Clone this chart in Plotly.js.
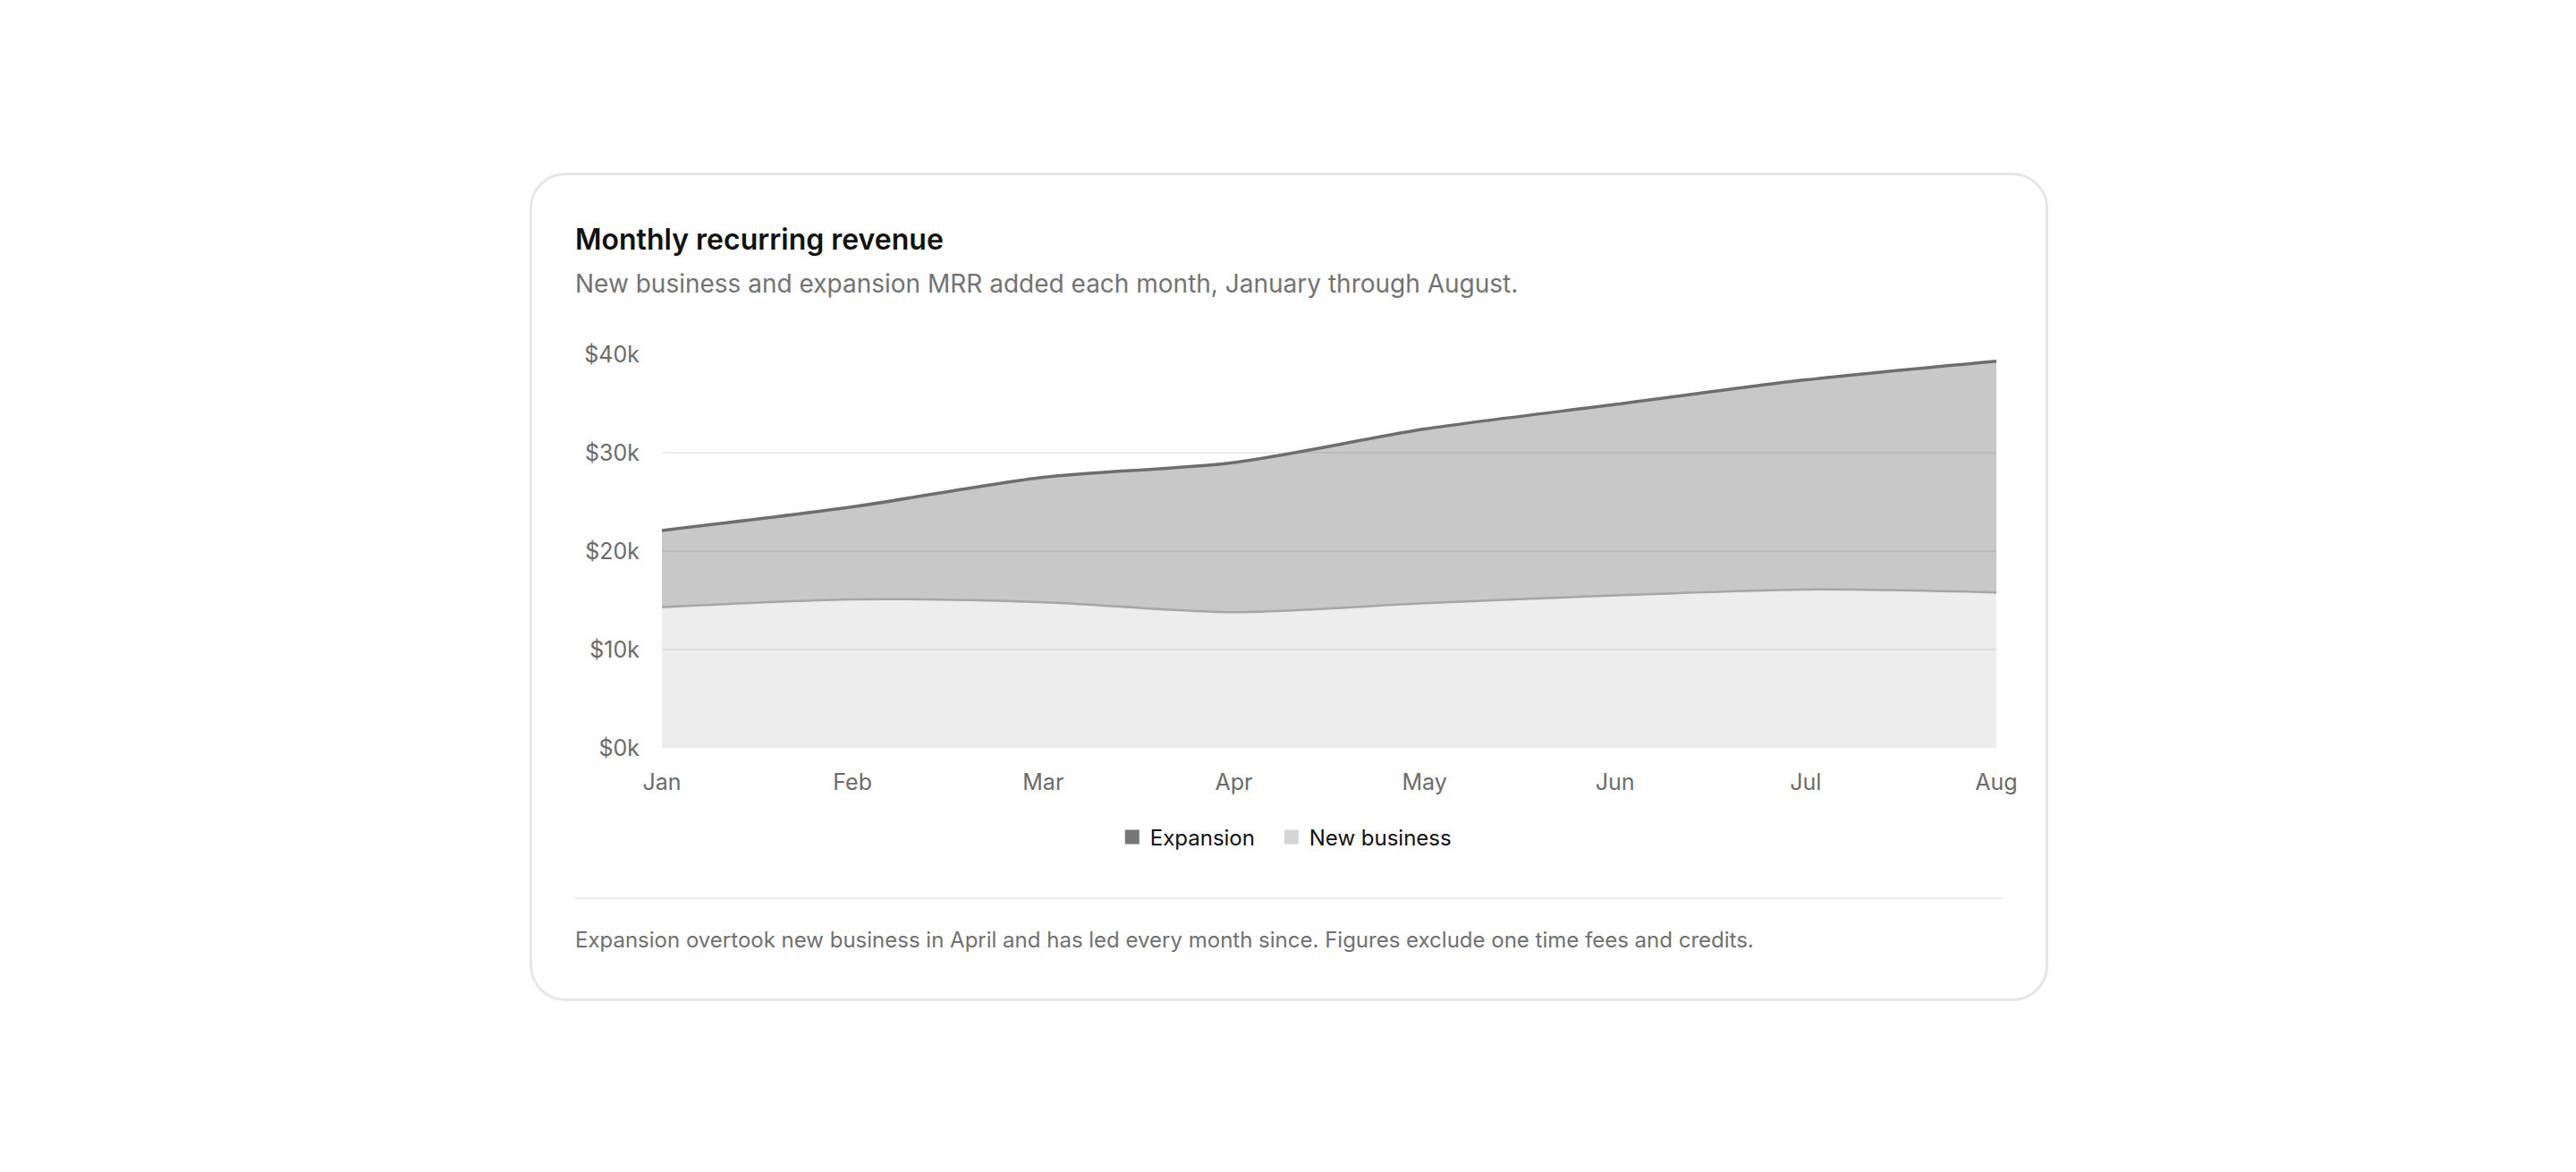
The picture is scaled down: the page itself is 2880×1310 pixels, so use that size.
<!DOCTYPE html>
<html>
<head>
<meta charset="utf-8">
<script src="https://cdn.plot.ly/plotly-3.0.1.min.js"></script>
<style>
  html, body { margin: 0; padding: 0; background: #fff; }
  body { width: 2880px; height: 1310px; position: relative; font-family: Inter, "Noto Sans", sans-serif; }
  .card {
    position: absolute; left: 592px; top: 193px;
    width: 1698px; height: 926px; box-sizing: border-box;
    border: 3px solid #e6e6e6; border-radius: 40px; background: #fff;
  }
  .title { position: absolute; left: 48px; top: 52px; font-size: 32px; line-height: 39px; font-weight: 600; color: #111; white-space: nowrap; }
  .sub { position: absolute; left: 48px; top: 104px; font-size: 28px; line-height: 34px; color: #737373; white-space: nowrap; }
  #mrr-chart { position: absolute; left: 48px; top: 154px; width: 1620px; height: 640px; }
  .rule { position: absolute; left: 48px; top: 807px; width: 1595px; height: 2px; background: #ececec; }
  .note { position: absolute; left: 48px; top: 840px; font-size: 24px; line-height: 29px; color: #707070; white-space: nowrap; }
</style>
</head>
<body>
<div class="card">
  <div class="title">Monthly recurring revenue</div>
  <div class="sub">New business and expansion MRR added each month, January through August.</div>
  <div id="mrr-chart"></div>
  <div class="rule"></div>
  <div class="note">Expansion overtook new business in April and has led every month since. Figures exclude one time fees and credits.</div>
</div>
<script>
// chart data
const months = ['Jan', 'Feb', 'Mar', 'Apr', 'May', 'Jun', 'Jul', 'Aug'];
const newBusiness = [14300, 15100, 14800, 13800, 14700, 15500, 16100, 15800];
const expansion = [7800, 9400, 12700, 15200, 17700, 19400, 21300, 23500];
const yTicks = [0, 10000, 20000, 30000, 40000];
const yTickText = ['$0k', '$10k', '$20k', '$30k', '$40k'];

const tickFont = {family: 'Inter, sans-serif', size: 25, color: '#6b6b6b'};

// stacked areas, new business at the bottom
let newTrace = {
  x: months,
  y: newBusiness,
  name: 'New business',
  stackgroup: 'mrr',
  mode: 'lines',
  line: {color: '#a6a6a6', width: 2.5, shape: 'spline', smoothing: 0.8},
  fillcolor: 'rgba(170,170,170,0.21)',
  showlegend: false
}

let expTrace = {
  x: months,
  y: expansion,
  name: 'Expansion',
  stackgroup: 'mrr',
  mode: 'lines',
  line: {color: '#6e6e6e', width: 3.5, shape: 'spline', smoothing: 0.8},
  fillcolor: 'rgba(110,110,110,0.38)',
  showlegend: false
}

// legend swatches only
let expKey = {x: [null], y: [null], name: 'Expansion', mode: 'markers', legendwidth: 133, marker: {symbol: 'square', size: 16, color: '#777777'}}
let newKey = {x: [null], y: [null], name: 'New business', mode: 'markers', marker: {symbol: 'square', size: 16, color: '#d4d4d4'}}

let layout = {
  width: 1620,
  height: 640,
  margin: {l: 97, r: 31, t: 46, b: 154},
  paper_bgcolor: 'rgba(0,0,0,0)',
  plot_bgcolor: 'rgba(0,0,0,0)',
  font: {family: 'Inter, sans-serif', color: '#111'},
  xaxis: {
    type: 'category',
    range: [0, 7],
    showgrid: false,
    zeroline: false,
    showline: false,
    ticks: '',
    tickfont: tickFont,
    ticklabelstandoff: 21
  },
  yaxis: {
    range: [0, 40000],
    tickvals: yTicks,
    ticktext: yTickText,
    showgrid: true,
    gridcolor: '#ececec',
    gridwidth: 2,
    zeroline: false,
    showline: false,
    ticks: '',
    tickfont: tickFont,
    ticklabelstandoff: 24
  },
  showlegend: true,
  legend: {
    orientation: 'h',
    x: 0.467,
    xanchor: 'center',
    y: -0.227,
    yanchor: 'middle',
    font: {family: 'Inter, sans-serif', size: 24, color: '#111'},
    traceorder: 'normal'
  }
}

Plotly.newPlot('mrr-chart', [newTrace, expTrace, expKey, newKey], layout, {staticPlot: true, displayModeBar: false});
</script>
</body>
</html>
